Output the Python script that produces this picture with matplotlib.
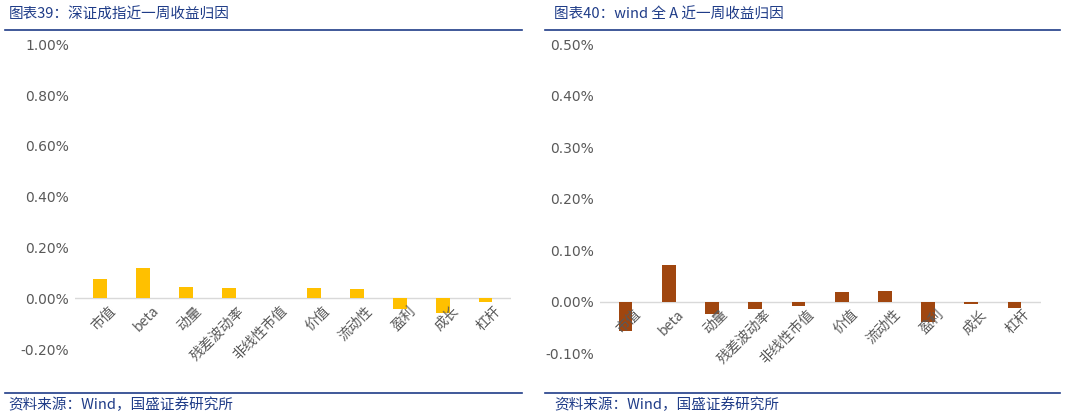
import matplotlib.pyplot as plt
from matplotlib.ticker import FuncFormatter
from matplotlib.lines import Line2D
from matplotlib.transforms import offset_copy

plt.rcParams['font.family'] = ['DejaVu Sans', 'Noto Sans CJK SC']

factors = ['市值', 'beta', '动量', '残差波动率', '非线性市值', '价值', '流动性', '盈利', '成长', '杠杆']
szcz_ret = [0.075, 0.118, 0.043, 0.040, 0.0, 0.040, 0.035, -0.043, -0.058, -0.015]
wind_ret = [-0.056, 0.071, -0.023, -0.015, -0.009, 0.019, 0.021, -0.039, -0.004, -0.012]

navy = '#1F3C88'
fig = plt.figure(figsize=(10.65, 4.17), dpi=100)

def panel(rect, vals, color, ylim, step, title, tx):
    ax = fig.add_axes(rect)
    ax.bar(range(len(factors)), vals, width=0.32, color=color, zorder=3)
    ax.set_ylim(*ylim)
    ticks = []
    v = ylim[0]
    while v <= ylim[1] + 1e-9:
        ticks.append(round(v, 4))
        v += step
    ax.set_yticks(ticks)
    ax.yaxis.set_major_formatter(FuncFormatter(lambda x, p: f'{x:.2f}%'))
    ax.set_xlim(-0.6, len(factors) - 0.4)
    ax.axhline(0, color='#d9d9d9', lw=1, zorder=2)
    ax.set_xticks([])
    ax.tick_params(length=0, labelsize=10, colors='#595959', pad=4)
    for s in ax.spines.values():
        s.set_visible(False)
    tr = offset_copy(ax.transData, fig=fig, x=6, y=-4, units='points')
    for i, name in enumerate(factors):
        ax.text(i, 0, name, transform=tr, rotation=45, rotation_mode='anchor',
                ha='right', va='top', fontsize=10, color='#595959',
                family=['Noto Sans CJK SC', 'DejaVu Sans'])
    fig.text(tx, 0.965, title, fontsize=10.5, color=navy, style='italic', va='center',
             family=['Noto Sans CJK SC', 'DejaVu Sans'])
    fig.text(tx, 0.03, '资料来源：Wind，国盛证券研究所', fontsize=10.5, color=navy,
             style='italic', va='center', family=['Noto Sans CJK SC', 'DejaVu Sans'])
    return ax

ax1 = panel([0.07, 0.163, 0.41, 0.731], szcz_ret, '#FFC000', (-0.2, 1.0), 0.2,
            '图表39：深证成指近一周收益归因', 0.008)
ax2 = panel([0.563, 0.153, 0.414, 0.741], wind_ret, '#A0460F', (-0.1, 0.5), 0.1,
            '图表40：wind 全 A 近一周收益归因', 0.52)

for x0, x1 in [(0.005, 0.49), (0.512, 0.995)]:
    fig.add_artist(Line2D([x0, x1], [0.928, 0.928], color=navy, lw=1.2))
    fig.add_artist(Line2D([x0, x1], [0.058, 0.058], color=navy, lw=1.2))

fig.savefig('out.png', dpi=100)
